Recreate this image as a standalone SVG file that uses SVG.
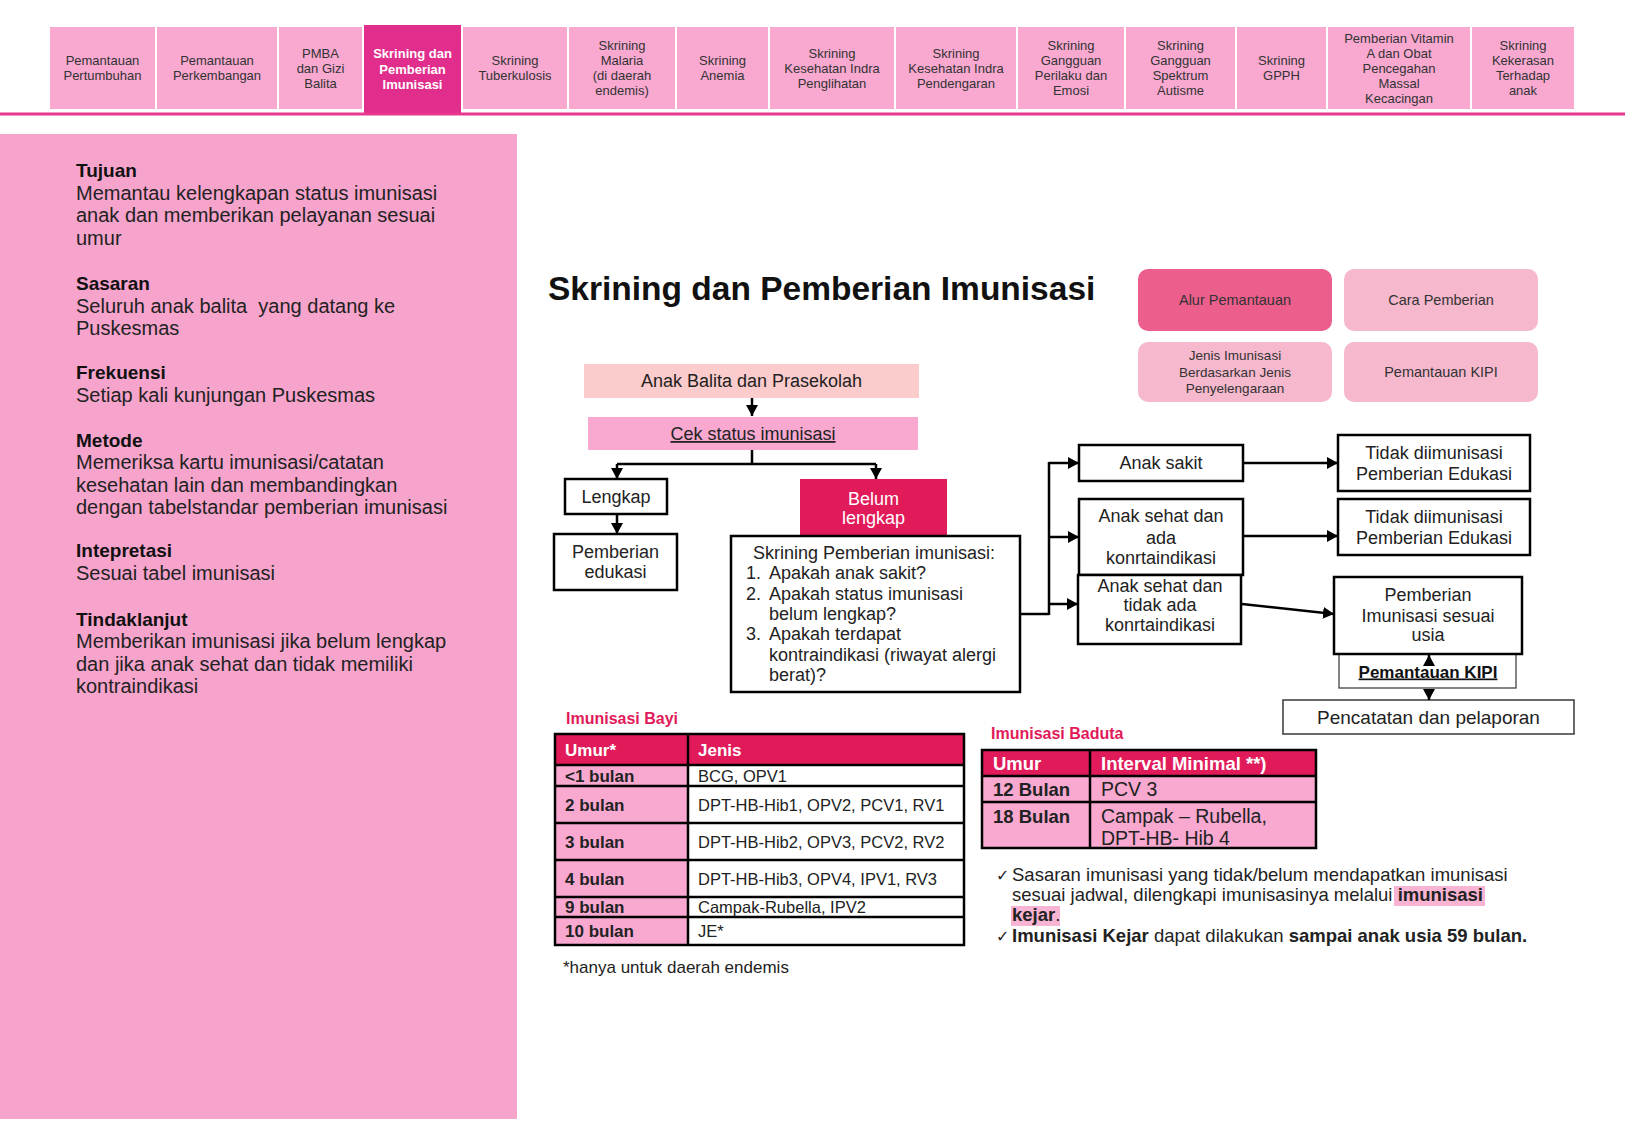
<svg xmlns="http://www.w3.org/2000/svg" width="1625" height="1125" viewBox="0 0 1625 1125">
<defs>
<marker id="arr" markerUnits="userSpaceOnUse" markerWidth="12" markerHeight="12" refX="11" refY="6" orient="auto"><path d="M0,0 L11,6 L0,12 z" fill="#000"/></marker>
<style>
text{font-family:"Liberation Sans",Arial,sans-serif;fill:#222}
.tab{fill:#f9a9d0}
.tt{font-size:13px;text-anchor:middle;fill:#333}
.tta{font-size:13px;text-anchor:middle;fill:#fff;font-weight:bold}
.h{font-size:19px;font-weight:bold;fill:#111}
.b{font-size:20px;fill:#222}
.box{fill:#fff;stroke:#000;stroke-width:2.5}
.thin{fill:#fff;stroke:#444;stroke-width:1.3}
.ft{font-size:18px;text-anchor:middle;fill:#222}
.btn{font-size:14.5px;text-anchor:middle;fill:#333}
.con{fill:none;stroke:#000;stroke-width:2.5}
.tb{stroke:#000;stroke-width:2.5}
.th{font-weight:bold;fill:#fff}
.bo{font-weight:bold}
</style>
</defs>
<rect width="1625" height="1125" fill="#fff"/>
<g id="tabs">
<rect class="tab" x="50" y="27" width="105" height="82"/><text class="tt" x="102.5" y="65">Pemantauan</text><text class="tt" x="102.5" y="80">Pertumbuhan</text>
<rect class="tab" x="157" y="27" width="120" height="82"/><text class="tt" x="217" y="65">Pemantauan</text><text class="tt" x="217" y="80">Perkembangan</text>
<rect class="tab" x="279" y="27" width="83" height="82"/><text class="tt" x="320.5" y="57.5">PMBA</text><text class="tt" x="320.5" y="72.5">dan Gizi</text><text class="tt" x="320.5" y="87.5">Balita</text>
<rect x="364" y="25" width="97" height="88" fill="#e12d8c"/><text class="tta" x="412.5" y="58">Skrining dan</text><text class="tta" x="412.5" y="73.5">Pemberian</text><text class="tta" x="412.5" y="89">Imunisasi</text>
<rect class="tab" x="463" y="27" width="104" height="82"/><text class="tt" x="515" y="65">Skrining</text><text class="tt" x="515" y="80">Tuberkulosis</text>
<rect class="tab" x="569" y="27" width="106" height="82"/><text class="tt" x="622" y="50">Skrining</text><text class="tt" x="622" y="65">Malaria</text><text class="tt" x="622" y="80">(di daerah</text><text class="tt" x="622" y="95">endemis)</text>
<rect class="tab" x="677" y="27" width="91" height="82"/><text class="tt" x="722.5" y="65">Skrining</text><text class="tt" x="722.5" y="80">Anemia</text>
<rect class="tab" x="770" y="27" width="124" height="82"/><text class="tt" x="832" y="57.5">Skrining</text><text class="tt" x="832" y="72.5">Kesehatan Indra</text><text class="tt" x="832" y="87.5">Penglihatan</text>
<rect class="tab" x="896" y="27" width="120" height="82"/><text class="tt" x="956" y="57.5">Skrining</text><text class="tt" x="956" y="72.5">Kesehatan Indra</text><text class="tt" x="956" y="87.5">Pendengaran</text>
<rect class="tab" x="1018" y="27" width="106" height="82"/><text class="tt" x="1071" y="50">Skrining</text><text class="tt" x="1071" y="65">Gangguan</text><text class="tt" x="1071" y="80">Perilaku dan</text><text class="tt" x="1071" y="95">Emosi</text>
<rect class="tab" x="1126" y="27" width="109" height="82"/><text class="tt" x="1180.5" y="50">Skrining</text><text class="tt" x="1180.5" y="65">Gangguan</text><text class="tt" x="1180.5" y="80">Spektrum</text><text class="tt" x="1180.5" y="95">Autisme</text>
<rect class="tab" x="1237" y="27" width="89" height="82"/><text class="tt" x="1281.5" y="65">Skrining</text><text class="tt" x="1281.5" y="80">GPPH</text>
<rect class="tab" x="1328" y="27" width="142" height="82"/><text class="tt" x="1399" y="42.5">Pemberian Vitamin</text><text class="tt" x="1399" y="57.5">A dan Obat</text><text class="tt" x="1399" y="72.5">Pencegahan</text><text class="tt" x="1399" y="87.5">Massal</text><text class="tt" x="1399" y="102.5">Kecacingan</text>
<rect class="tab" x="1472" y="27" width="102" height="82"/><text class="tt" x="1523" y="50">Skrining</text><text class="tt" x="1523" y="65">Kekerasan</text><text class="tt" x="1523" y="80">Terhadap</text><text class="tt" x="1523" y="95">anak</text>
<rect x="0" y="112.5" width="1625" height="3" fill="#e8378f"/>
</g>
<g id="sidebar">
<rect x="0" y="134" width="517" height="985" fill="#f7a4cc"/>
<text class="h" x="76" y="177">Tujuan</text>
<text class="b" x="76" y="199.5">Memantau kelengkapan status imunisasi</text>
<text class="b" x="76" y="222">anak dan memberikan pelayanan sesuai</text>
<text class="b" x="76" y="244.5">umur</text>
<text class="h" x="76" y="290">Sasaran</text>
<text class="b" x="76" y="312.5" xml:space="preserve">Seluruh anak balita  yang datang ke</text>
<text class="b" x="76" y="335">Puskesmas</text>
<text class="h" x="76" y="379">Frekuensi</text>
<text class="b" x="76" y="401.5">Setiap kali kunjungan Puskesmas</text>
<text class="h" x="76" y="446.5">Metode</text>
<text class="b" x="76" y="469">Memeriksa kartu imunisasi/catatan</text>
<text class="b" x="76" y="491.5">kesehatan lain dan membandingkan</text>
<text class="b" x="76" y="514">dengan tabelstandar pemberian imunisasi</text>
<text class="h" x="76" y="557">Intepretasi</text>
<text class="b" x="76" y="579.5">Sesuai tabel imunisasi</text>
<text class="h" x="76" y="625.5">Tindaklanjut</text>
<text class="b" x="76" y="648">Memberikan imunisasi jika belum lengkap</text>
<text class="b" x="76" y="670.5">dan jika anak sehat dan tidak memiliki</text>
<text class="b" x="76" y="693">kontraindikasi</text>
</g>
<g id="title"><text x="548" y="300" style="font-size:33.5px;font-weight:bold;fill:#111">Skrining dan Pemberian Imunisasi</text></g>
<g id="btn-alur"><rect x="1138" y="269" width="194" height="62" rx="10" fill="#ec5f8d"/><text class="btn" x="1235" y="305">Alur Pemantauan</text></g>
<g id="btn-cara"><rect x="1344" y="269" width="194" height="62" rx="10" fill="#f6b8cd"/><text class="btn" x="1441" y="305">Cara Pemberian</text></g>
<g id="btn-jenis"><rect x="1138" y="342" width="194" height="60" rx="10" fill="#f6b8cd"/><text class="btn" x="1235" y="360" style="font-size:13.5px">Jenis Imunisasi</text><text class="btn" x="1235" y="377" style="font-size:13.5px">Berdasarkan Jenis</text><text class="btn" x="1235" y="393" style="font-size:13.5px">Penyelengaraan</text></g>
<g id="btn-kipi"><rect x="1344" y="342" width="194" height="60" rx="10" fill="#f6b8cd"/><text class="btn" x="1441" y="377">Pemantauan KIPI</text></g>
<g id="n-anak"><rect x="584" y="364" width="335" height="34" fill="#fccbcb"/><text class="ft" x="751.5" y="387">Anak Balita dan Prasekolah</text></g>
<g id="n-cek"><rect x="588" y="417" width="330" height="33" fill="#f9a8d0"/><text class="ft" x="753" y="440" text-decoration="underline">Cek status imunisasi</text></g>
<g id="n-lengkap"><rect class="box" x="565" y="479" width="102" height="35"/><text class="ft" x="616" y="503">Lengkap</text></g>
<g id="n-edukasi"><rect class="box" x="554" y="534" width="123" height="56"/><text class="ft" x="615.5" y="558">Pemberian</text><text class="ft" x="615.5" y="578">edukasi</text></g>
<g id="n-belum"><rect x="800" y="479" width="147" height="57" fill="#e11a5a"/><text class="ft" x="873.5" y="504.5" style="fill:#fff">Belum</text><text class="ft" x="873.5" y="524" style="fill:#fff">lengkap</text></g>
<g id="n-skrining"><rect class="box" x="731" y="536" width="289" height="156"/>
<text class="ft" x="874" y="559">Skrining Pemberian imunisasi:</text>
<text x="746" y="579" style="font-size:18px">1.</text><text x="769" y="579" style="font-size:18px">Apakah anak sakit?</text>
<text x="746" y="600" style="font-size:18px">2.</text><text x="769" y="600" style="font-size:18px">Apakah status imunisasi</text>
<text x="769" y="619.5" style="font-size:18px">belum lengkap?</text>
<text x="746" y="640" style="font-size:18px">3.</text><text x="769" y="640" style="font-size:18px">Apakah terdapat</text>
<text x="769" y="661" style="font-size:18px">kontraindikasi (riwayat alergi</text>
<text x="769" y="680.5" style="font-size:18px">berat)?</text>
</g>
<g id="n-sakit"><rect class="box" x="1079" y="445" width="164" height="36"/><text class="ft" x="1161" y="469">Anak sakit</text></g>
<g id="n-sehat-ada"><rect class="box" x="1079" y="499" width="164" height="76"/><text class="ft" x="1161" y="522">Anak sehat dan</text><text class="ft" x="1161" y="544">ada</text><text class="ft" x="1161" y="563.5">konrtaindikasi</text></g>
<g id="n-sehat-tidak"><rect class="box" x="1078" y="575" width="163" height="69"/><text class="ft" x="1160" y="591.5">Anak sehat dan</text><text class="ft" x="1160" y="611">tidak ada</text><text class="ft" x="1160" y="631">konrtaindikasi</text></g>
<g id="n-tidak1"><rect class="box" x="1338" y="435" width="192" height="56"/><text class="ft" x="1434" y="459">Tidak diimunisasi</text><text class="ft" x="1434" y="479.5">Pemberian Edukasi</text></g>
<g id="n-tidak2"><rect class="box" x="1338" y="499" width="192" height="56"/><text class="ft" x="1434" y="523">Tidak diimunisasi</text><text class="ft" x="1434" y="544">Pemberian Edukasi</text></g>
<g id="n-kipi"><rect class="thin" x="1339" y="654" width="177" height="34"/><text class="ft" x="1428" y="677.5" text-decoration="underline" style="font-weight:bold;font-size:17px;fill:#111">Pemantauan KIPI</text></g>
<g id="n-pemberian"><rect class="box" x="1334" y="577" width="188" height="77"/><text class="ft" x="1428" y="601">Pemberian</text><text class="ft" x="1428" y="621.5">Imunisasi sesuai</text><text class="ft" x="1428" y="641">usia</text></g>
<g id="n-pencatatan"><rect class="thin" x="1283" y="700" width="291" height="34" style="stroke-width:1.6"/><text class="ft" x="1428.5" y="723.5" style="font-size:19px">Pencatatan dan pelaporan</text></g>
<g id="connectors">
<path class="con" d="M752,398 V416" marker-end="url(#arr)"/>
<path class="con" d="M752,450 V464 M617,464 H876"/>
<path class="con" d="M617,464 V479" marker-end="url(#arr)"/>
<path class="con" d="M876,464 V479" marker-end="url(#arr)"/>
<path class="con" d="M617,514 V534" marker-end="url(#arr)"/>
<path class="con" d="M1021,614 H1049 M1049,462 V615"/>
<path class="con" d="M1049,463 H1079" marker-end="url(#arr)"/>
<path class="con" d="M1049,537 H1079" marker-end="url(#arr)"/>
<path class="con" d="M1049,604 H1078" marker-end="url(#arr)"/>
<path class="con" d="M1244,463 H1338" marker-end="url(#arr)"/>
<path class="con" d="M1244,536 H1338" marker-end="url(#arr)"/>
<path class="con" d="M1242,604 L1334,614" marker-end="url(#arr)"/>
<path class="con" d="M1429,666 V655" marker-end="url(#arr)"/>
<path class="con" d="M1429,689 V700" marker-end="url(#arr)"/>
</g>
<g id="tabel-bayi">
<text x="566" y="723.5" style="font-size:16px;font-weight:bold;fill:#e11a5a">Imunisasi Bayi</text>
<rect x="555" y="734" width="409" height="31" fill="#e11a5a"/>
<rect x="555" y="765" width="133" height="180" fill="#f9a8d0"/>
<rect x="688" y="765" width="276" height="180" fill="#fff"/>
<g class="tb">
<rect x="555" y="734" width="409" height="211" fill="none"/>
<line x1="688" y1="734" x2="688" y2="945"/>
<line x1="555" y1="765" x2="964" y2="765"/>
<line x1="555" y1="786" x2="964" y2="786"/>
<line x1="555" y1="823" x2="964" y2="823"/>
<line x1="555" y1="860" x2="964" y2="860"/>
<line x1="555" y1="897" x2="964" y2="897"/>
<line x1="555" y1="917" x2="964" y2="917"/>
</g>
<g style="font-size:17px">
<text class="th" x="565" y="755.5">Umur*</text><text class="th" x="698" y="755.5">Jenis</text>
<text class="bo" x="565" y="781.5">&lt;1 bulan</text>
<text class="bo" x="565" y="810.5">2 bulan</text>
<text class="bo" x="565" y="847.5">3 bulan</text>
<text class="bo" x="565" y="884.5">4 bulan</text>
<text class="bo" x="565" y="913">9 bulan</text>
<text class="bo" x="565" y="937">10 bulan</text>
</g>
<g style="font-size:16.5px">
<text x="698" y="781.5">BCG, OPV1</text>
<text x="698" y="810.5">DPT-HB-Hib1, OPV2, PCV1, RV1</text>
<text x="698" y="847.5">DPT-HB-Hib2, OPV3, PCV2, RV2</text>
<text x="698" y="884.5">DPT-HB-Hib3, OPV4, IPV1, RV3</text>
<text x="698" y="913">Campak-Rubella, IPV2</text>
<text x="698" y="937">JE*</text>
</g>
<text x="563" y="973" style="font-size:17px">*hanya untuk daerah endemis</text>
</g>
<g id="tabel-baduta">
<text x="991" y="738.5" style="font-size:16px;font-weight:bold;fill:#e11a5a">Imunisasi Baduta</text>
<rect x="982" y="750" width="334" height="26" fill="#e11a5a"/>
<rect x="982" y="776" width="334" height="72" fill="#f9a8d0"/>
<g class="tb">
<rect x="982" y="750" width="334" height="98" fill="none"/>
<line x1="1090" y1="750" x2="1090" y2="848"/>
<line x1="982" y1="776" x2="1316" y2="776"/>
<line x1="982" y1="802" x2="1316" y2="802"/>
</g>
<g style="font-size:18.5px">
<text class="th" x="993" y="770">Umur</text><text class="th" x="1101" y="770">Interval Minimal **)</text>
<text class="bo" x="993" y="796">12 Bulan</text>
<text class="bo" x="993" y="823">18 Bulan</text>
</g>
<g style="font-size:19.5px">
<text x="1101" y="796">PCV 3</text>
<text x="1101" y="823">Campak – Rubella,</text>
<text x="1101" y="845">DPT-HB- Hib 4</text>
</g>
</g>
<g id="catatan">
<rect x="1394" y="886" width="91" height="20" fill="#f9b3d3"/>
<rect x="1011" y="906" width="49" height="20" fill="#f9b3d3"/>
<g style="font-size:18.5px">
<text x="996" y="881" style="font-family:'DejaVu Sans',sans-serif;font-size:16px">✓</text>
<text x="1012" y="881">Sasaran imunisasi yang tidak/belum mendapatkan imunisasi</text>
<text x="1012" y="901">sesuai jadwal, dilengkapi imunisasinya melalui <tspan class="bo">imunisasi</tspan></text>
<text x="1012" y="920.5"><tspan class="bo">kejar</tspan>.</text>
<text x="996" y="942" style="font-family:'DejaVu Sans',sans-serif;font-size:16px">✓</text>
<text x="1012" y="942"><tspan class="bo">Imunisasi Kejar</tspan> dapat dilakukan <tspan class="bo">sampai anak usia 59 bulan.</tspan></text>
</g>
</g>
</svg>
